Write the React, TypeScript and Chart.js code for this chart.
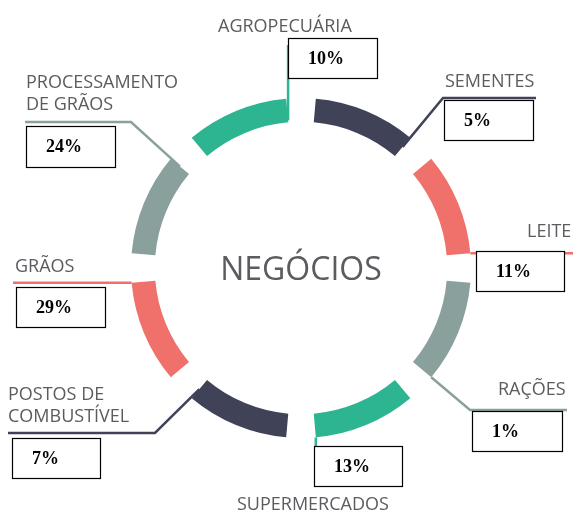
import React, { useEffect, useRef } from "react";
import { Chart, registerables } from "chart.js";

Chart.register(...registerables);

// ---- data ----
const categories = [
  "AGROPECUÁRIA",
  "SEMENTES",
  "LEITE",
  "RAÇÕES",
  "SUPERMERCADOS",
  "POSTOS DE\nCOMBUSTÍVEL",
  "GRÃOS",
  "PROCESSAMENTO\nDE GRÃOS",
];
const shareLabels = ["10%", "5%", "11%", "1%", "13%", "7%", "29%", "24%"];
// every ring segment has the same size in the graphic
const segmentWeights = [1, 1, 1, 1, 1, 1, 1, 1];
const centerTitle = "NEGÓCIOS";

// ---- styles ----
const GREEN = "#2db491";
const NAVY = "#404258";
const RED = "#f0716b";
const GRAY = "#8aa09c";
const segmentColors = [GREEN, NAVY, RED, GRAY, GREEN, NAVY, RED, GRAY];
const SEG = 7;
const GAP = 2;
const TEXT = "#5b5b60";

type Pt = [number, number];
// label layout: text position, box rect, and leader-line geometry
const layout: {
  text: Pt;
  lineGap?: number;
  box: [number, number, number, number];
  anchorR: "inner" | "mid" | "outer";
  path: (a: Pt) => Pt[];
}[] = [
  { text: [218, 32], box: [288, 38, 89, 40], anchorR: "inner", path: (a) => [[a[0], 45]] },
  { text: [445, 87], box: [444, 100, 89, 40], anchorR: "mid", path: () => [[443, 98], [536, 98]] },
  { text: [527, 237], box: [476, 251, 88, 40], anchorR: "outer", path: (a) => [[573, a[1]]] },
  { text: [498, 395], box: [472, 411, 90, 40], anchorR: "outer", path: () => [[470, 410], [567, 410]] },
  { text: [237, 510], box: [314, 446, 88, 40], anchorR: "outer", path: (a) => [[a[0], 446]] },
  { text: [8, 400], lineGap: 22, box: [12, 438, 88, 40], anchorR: "mid", path: () => [[155, 433], [8, 433]] },
  { text: [15, 272], box: [16, 287, 89, 40], anchorR: "outer", path: (a) => [[13, a[1]]] },
  { text: [26, 88], lineGap: 22, box: [26, 126, 89, 41], anchorR: "mid", path: () => [[131, 122], [25, 122]] },
];

const labelPlugin = {
  id: "ringLabels",
  afterDatasetsDraw(chart: any) {
    const ctx = chart.ctx as CanvasRenderingContext2D;
    const meta = chart.getDatasetMeta(0);
    ctx.save();
    // center title
    const first = meta.data[0];
    ctx.fillStyle = TEXT;
    ctx.font = '32px "Open Sans"';
    ctx.textAlign = "center";
    ctx.textBaseline = "alphabetic";
    ctx.fillText(centerTitle, first.x, first.y + 12);

    categories.forEach((cat, i) => {
      const arc = meta.data[i * 2];
      const L = layout[i];
      const r =
        L.anchorR === "inner"
          ? arc.innerRadius + 2
          : L.anchorR === "outer"
          ? arc.outerRadius
          : (arc.innerRadius + arc.outerRadius) / 2;
      const ang = arc.endAngle;
      const a: Pt = [arc.x + r * Math.cos(ang), arc.y + r * Math.sin(ang)];
      // leader line
      ctx.strokeStyle = segmentColors[i];
      ctx.lineWidth = 2.5;
      ctx.lineJoin = "miter";
      ctx.beginPath();
      ctx.moveTo(a[0], a[1]);
      L.path(a).forEach((p) => ctx.lineTo(p[0], p[1]));
      ctx.stroke();

      // label text
      ctx.fillStyle = TEXT;
      ctx.font = '18px "Open Sans"';
      ctx.textAlign = "left";
      ctx.textBaseline = "alphabetic";
      cat.split("\n").forEach((line, k) => {
        ctx.fillText(line, L.text[0], L.text[1] + k * (L.lineGap || 0));
      });

      // value box
      const [bx, by, bw, bh] = L.box;
      ctx.fillStyle = "#ffffff";
      ctx.fillRect(bx, by, bw, bh);
      ctx.strokeStyle = "#000000";
      ctx.lineWidth = 1.2;
      ctx.strokeRect(bx + 0.5, by + 0.5, bw, bh);
      ctx.fillStyle = "#000000";
      ctx.font = 'bold 18px "Liberation Serif"';
      ctx.textBaseline = "middle";
      ctx.fillText(shareLabels[i], bx + 20, by + bh / 2 + 1);
    });
    ctx.restore();
  },
};

export default function App() {
  const ref = useRef<HTMLCanvasElement>(null);
  useEffect(() => {
    if (!ref.current) return;
    const data: number[] = [];
    const colors: string[] = [];
    segmentWeights.forEach((w, i) => {
      data.push(w * SEG, GAP);
      colors.push(segmentColors[i], "rgba(0,0,0,0)");
    });
    const chart = new Chart(ref.current, {
      type: "doughnut",
      data: {
        labels: data.map((_, i) => (i % 2 === 0 ? categories[i / 2] : "")),
        datasets: [
          {
            data,
            backgroundColor: colors,
            borderWidth: 0,
            hoverOffset: 0,
          },
        ],
      },
      options: {
        responsive: false,
        animation: false,
        devicePixelRatio: 1,
        rotation: -40,
        cutout: "86%",
        layout: { padding: { left: 131, right: 102, top: 98, bottom: 75 } },
        plugins: {
          legend: { display: false },
          tooltip: { enabled: false },
        },
        events: [],
      },
      plugins: [labelPlugin],
    });
    return () => chart.destroy();
  }, []);
  return (
    <div style={{ position: "absolute", left: 0, top: 0, width: 573, height: 513, background: "#fff" }}>
      <canvas ref={ref} width={573} height={513} />
    </div>
  );
}
